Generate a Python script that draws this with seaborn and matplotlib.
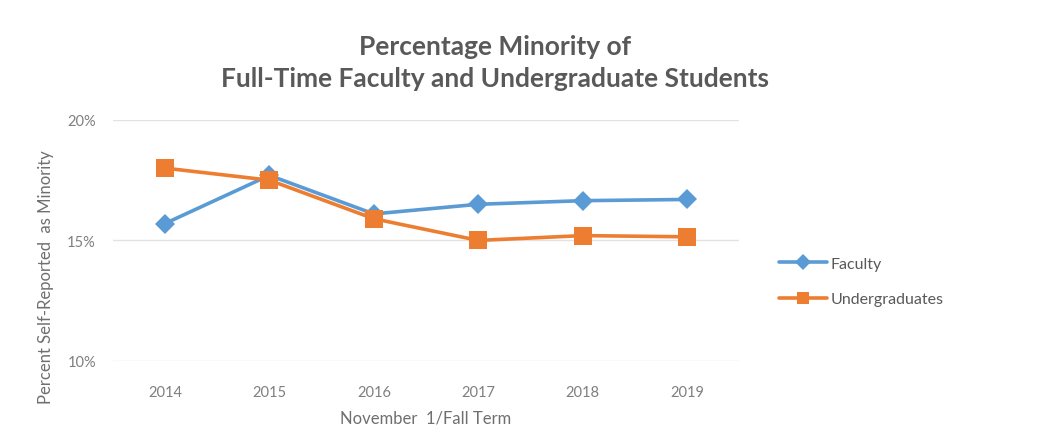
import matplotlib.pyplot as plt
import pandas as pd
import seaborn as sns

# values (percent)
years = ["2014", "2015", "2016", "2017", "2018", "2019"]
faculty = [15.7, 17.7, 16.1, 16.5, 16.65, 16.7]
undergraduates = [18.0, 17.5, 15.9, 15.0, 15.2, 15.15]

df = pd.DataFrame({
    "year": years * 2,
    "value": faculty + undergraduates,
    "group": ["Faculty"] * len(years) + ["Undergraduates"] * len(years),
})

sns.set_style("white")
plt.rcParams["font.family"] = ["Lato", "DejaVu Sans"]

fig = plt.figure(figsize=(10.43, 4.35), dpi=100)
ax = fig.add_axes([0.108, 0.168, 0.601, 0.554])

palette = {"Faculty": "#5B9BD5", "Undergraduates": "#ED7D31"}

sns.lineplot(
    data=df, x="year", y="value", hue="group", style="group",
    markers={"Faculty": "D", "Undergraduates": "s"},
    dashes=False, palette=palette, linewidth=2.6,
    markersize=10, markeredgewidth=0, ax=ax,
)
# bigger square markers for undergraduates
for line in ax.get_lines():
    if line.get_marker() == "s":
        line.set_markersize(13)

ax.set_ylim(10, 20)
ax.set_xlim(-0.5, len(years) - 0.5)
ax.set_yticks([10, 15, 20])
ax.set_yticklabels(["10%", "15%", "20%"])
ax.grid(axis="y", color="#e2e2e2", linewidth=1)
ax.set_axisbelow(True)
for s in ax.spines.values():
    s.set_visible(False)
ax.tick_params(axis="x", colors="#7f7f7f", labelsize=10.5, length=0, pad=17)
ax.tick_params(axis="y", colors="#7f7f7f", labelsize=10.5, length=0, pad=12)

ax.set_xlabel("November  1/Fall Term", fontsize=12, color="#6f6f6f", labelpad=8)
ax.set_ylabel("Percent Self-Reported  as Minority", fontsize=12, color="#6f6f6f")
ax.yaxis.set_label_coords(-0.094, 0.35)

fig.text(0.475, 0.855, "Percentage Minority of\nFull-Time Faculty and Undergraduate Students",
         ha="center", va="center", fontsize=19, fontweight="bold", color="#595959",
         linespacing=1.4)

handles, labels = ax.get_legend_handles_labels()
for h in handles:
    h.set_markersize(8)
ax.legend(handles, labels, loc="center left", bbox_to_anchor=(1.04, 0.33),
          frameon=False, fontsize=11.5, labelcolor="#595959",
          handlelength=3.0, handletextpad=0.25, labelspacing=1.35)

fig.savefig("out.png", dpi=100)
